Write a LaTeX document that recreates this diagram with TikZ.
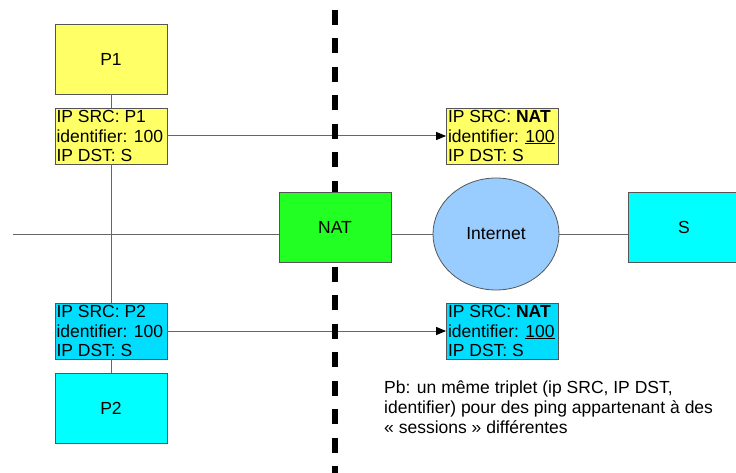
\documentclass[tikz,border=0pt]{standalone}
\usepackage{fontspec}
\setmainfont{Liberation Sans}
\usetikzlibrary{arrows.meta,shapes.geometric}
\definecolor{hostyellow}{HTML}{FFFF66}
\definecolor{natgreen}{HTML}{22FF22}
\definecolor{hostcyan}{HTML}{00FFFF}
\definecolor{pktcyan}{HTML}{00DDFF}
\definecolor{cloudblue}{HTML}{99CCFF}
\definecolor{edgegray}{HTML}{555555}
\definecolor{wiregray}{HTML}{666666}
\begin{document}
\begin{tikzpicture}[x=1pt,y=-1pt,
  txt/.style={font=\fontsize{17.5}{19.3}\selectfont},
  hostbox/.style={txt, draw=edgegray, line width=0.8pt, minimum width=112pt,
    minimum height=70pt, inner sep=0pt},
  pktbox/.style={txt, draw=edgegray, line width=0.8pt, minimum width=112pt,
    minimum height=56pt, text width=109pt, align=flush left, inner xsep=1.5pt, inner ysep=0pt},
  wire/.style={draw=wiregray, line width=1pt},
  flow/.style={wire, -{Triangle[length=10pt,width=8pt,color=black]}},
  border/.style={line width=6pt, dash pattern=on 15pt off 13.5pt}]
\useasboundingbox (0,0) rectangle (736,473);

% hosts, Internet cloud and server
\node[hostbox, fill=hostyellow] (p1) at (111,59) {P1};
\node[hostbox, fill=hostcyan] (p2) at (111,408) {P2};
\node[hostbox, fill=hostcyan] (srv) at (684,227) {S};
\node[ellipse, draw=edgegray, line width=0.8pt, fill=cloudblue, txt,
  minimum width=126pt, minimum height=112pt, inner sep=0pt] (inet) at (496,234) {Internet};

% packets before and after translation
\node[pktbox, fill=hostyellow] (pk1) at (111,136) {IP SRC: P1\\identifier: 100\\IP DST: S};
\node[pktbox, fill=pktcyan] (pk2) at (111,331) {IP SRC: P2\\identifier: 100\\IP DST: S};
\node[pktbox, fill=hostyellow] (tr1) at (502.5,136) {IP SRC: \textbf{NAT}\\identifier: \underline{100}\\IP DST: S};
\node[pktbox, fill=pktcyan] (tr2) at (502.5,331) {IP SRC: \textbf{NAT}\\identifier: \underline{100}\\IP DST: S};

\coordinate (lan) at (13,234);
\coordinate (hub) at (335,234);
\coordinate (top) at (335,10);
\coordinate (bot) at (335,473);

% local network wiring
\draw[wire] (p1) -- (pk1);
\draw[wire] (pk1) -- (pk2);
\draw[wire] (pk2) -- (p2);
\draw[wire] (lan) -- (hub);
\draw[wire] (hub) -- (inet);
\draw[wire] (inet) -- (srv.west |- inet);

% translated flows
\draw[flow] (pk1.east) -- (tr1.west);
\draw[flow] (pk2.east) -- (tr2.west);

% private / public boundary
\draw[border] (top) -- (bot);

\node[hostbox, fill=natgreen] (nat) at (335,227) {NAT};

\node[anchor=north west, inner sep=0pt, align=left,
  font=\fontsize{17.5}{20}\selectfont] (note) at (384,381)
  {Pb: un même triplet (ip SRC, IP DST,\\identifier) pour des ping appartenant à des\\« sessions » différentes};
\end{tikzpicture}
\end{document}
